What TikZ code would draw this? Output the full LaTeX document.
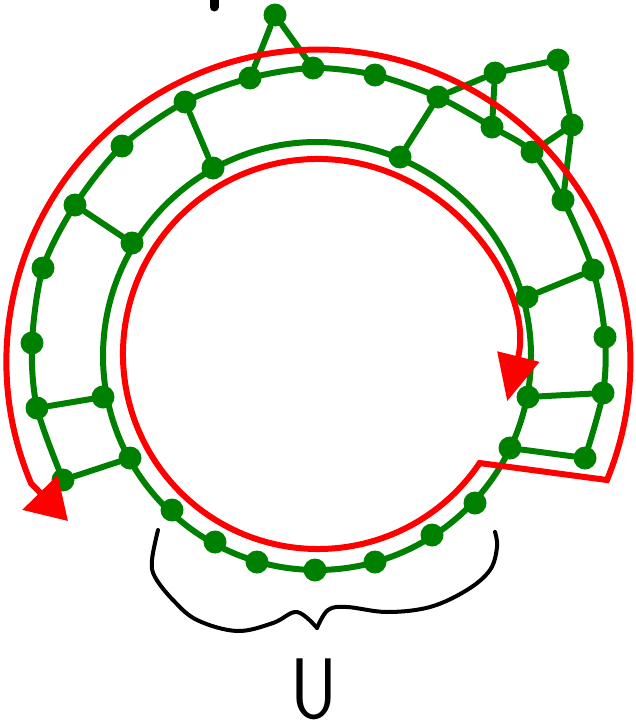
\documentclass[tikz,border=0pt]{standalone}
\usepackage{fontspec}
\usetikzlibrary{arrows.meta}
\definecolor{gr}{RGB}{0,128,0}
\definecolor{rd}{RGB}{255,0,0}
\begin{document}
\begin{tikzpicture}[x=1pt,y=-1pt,
  gdot/.style={circle,fill=gr,draw=none,inner sep=0pt,minimum size=23pt},
  gline/.style={draw=gr,line width=6pt,line cap=round,line join=round},
  rline/.style={draw=rd,line width=6pt,line join=miter},
  bline/.style={draw=black,line width=4pt,line cap=round,line join=round}]
\useasboundingbox (0,0) rectangle (636,728);

% outer ring nodes
\node[gdot] (o1) at (63,480) {};
\node[gdot] (o2) at (37,408) {};
\node[gdot] (o3) at (32,343) {};
\node[gdot] (o4) at (43,268) {};
\node[gdot] (o5) at (75,205) {};
\node[gdot] (o6) at (122,146) {};
\node[gdot] (o7) at (185,102) {};
\node[gdot] (o8) at (250,78) {};
\node[gdot] (o9) at (313,68) {};
\node[gdot] (o10) at (375,75) {};
\node[gdot] (o11) at (438,97) {};
\node[gdot] (o12) at (492,127) {};
\node[gdot] (o13) at (532,152) {};
\node[gdot] (o14) at (563,200) {};
\node[gdot] (o15) at (593,270) {};
\node[gdot] (o16) at (605,337) {};
\node[gdot] (o17) at (603,393) {};
\node[gdot] (o18) at (585,458) {};

% inner ring nodes
\node[gdot] (i1) at (172,510) {};
\node[gdot] (i2) at (215,542) {};
\node[gdot] (i3) at (257,562) {};
\node[gdot] (i4) at (315,570) {};
\node[gdot] (i5) at (375,562) {};
\node[gdot] (i6) at (432,535) {};
\node[gdot] (i7) at (475,503) {};
\node[gdot] (i8) at (510,448) {};
\node[gdot] (i9) at (528,397) {};
\node[gdot] (i10) at (527,297) {};
\node[gdot] (i11) at (400,157) {};
\node[gdot] (i12) at (213,168) {};
\node[gdot] (i13) at (132,243) {};
\node[gdot] (i14) at (103,397) {};
\node[gdot] (i15) at (130,458) {};

% outside nodes
\node[gdot] (t1) at (275,15) {};
\node[gdot] (t2) at (495,73) {};
\node[gdot] (t3) at (558,60) {};
\node[gdot] (t4) at (572,125) {};

% rings
\draw[gline] (317,356) circle[radius=214];
\draw[gline] plot[smooth] coordinates {(o1.center) (o2.center) (o3.center) (o4.center) (o5.center) (o6.center) (o7.center) (o8.center) (o9.center) (o10.center) (o11.center) (o12.center) (o13.center) (o14.center) (o15.center) (o16.center) (o17.center) (o18.center)};

% edges
\draw[gline] (o8) -- (t1) -- (o9);
\draw[gline] (o11) -- (t2) -- (o12);
\draw[gline] (t2) -- (t3) -- (t4) -- (o13);
\draw[gline] (t4) -- (o14);
\draw[gline] (o11) -- (i11);
\draw[gline] (o7) -- (i12);
\draw[gline] (o5) -- (i13);
\draw[gline] (o2) -- (i14);
\draw[gline] (o1) -- (i15);
\draw[gline] (o15) -- (i10);
\draw[gline] (o17) -- (i9);
\draw[gline] (o18) -- (i8);

% red path
\coordinate (rc) at (607,480);
\coordinate (re) at (68,521);
\draw[rline,{Triangle[length=46pt,width=42pt]}-{Triangle[length=40pt,width=48pt]}] (318,354) ++(14:195) arc[start angle=14,end angle=-326,radius=195]
  -- (rc) arc[start angle=22.3,end angle=-203,radius=312] -- (re);

% brace
\draw[bline] plot[smooth,tension=0.6] coordinates {(158,530) (152,560) (155,577) (173,600) (197,620) (237,631) (273,623) (297,612) (317,628)};
\draw[bline] plot[smooth,tension=0.6] coordinates {(317,628) (328,610) (347,607) (387,612) (430,607) (467,590) (490,570) (497,547) (495,532)};

% cut-off mark at top
\draw[line width=9pt,line cap=round] (214,-6) -- (214,7);

\node[font=\fontsize{86}{86}\selectfont\sffamily,inner sep=0pt,anchor=base,xscale=0.85] (U) at (314,718) {U};
\end{tikzpicture}
\end{document}
